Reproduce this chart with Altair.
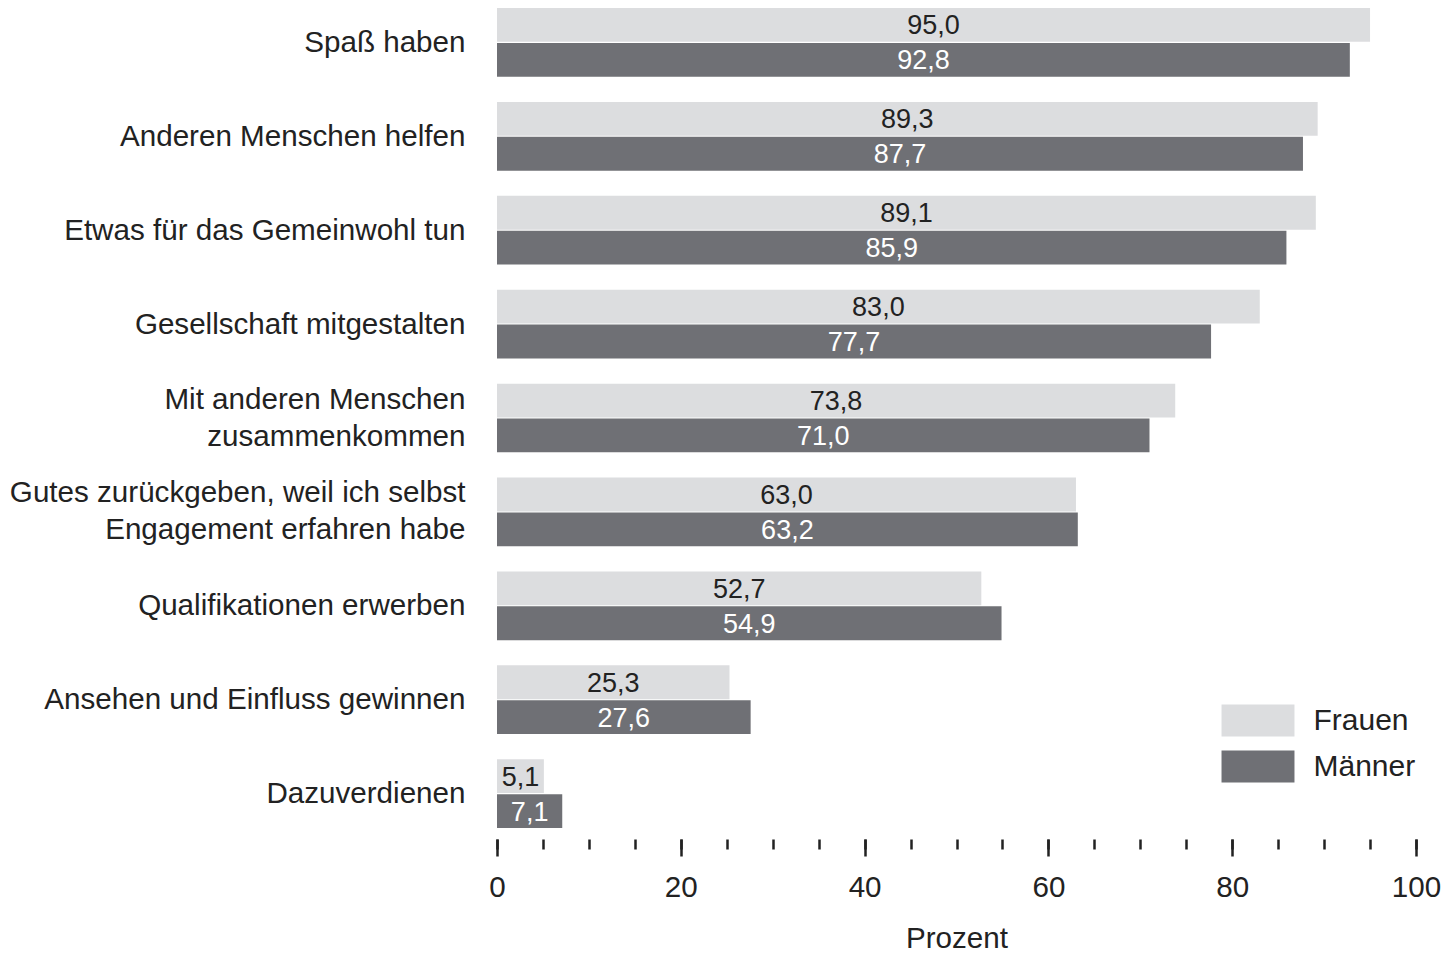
import altair as alt
import pandas as pd

kategorien = [
    "Spaß haben",
    "Anderen Menschen helfen",
    "Etwas für das Gemeinwohl tun",
    "Gesellschaft mitgestalten",
    "Mit anderen Menschen|zusammenkommen",
    "Gutes zurückgeben, weil ich selbst|Engagement erfahren habe",
    "Qualifikationen erwerben",
    "Ansehen und Einfluss gewinnen",
    "Dazuverdienen",
]
frauen = [95.0, 89.3, 89.1, 83.0, 73.8, 63.0, 52.7, 25.3, 5.1]
maenner = [92.8, 87.7, 85.9, 77.7, 71.0, 63.2, 54.9, 27.6, 7.1]
gruppen = ["Frauen", "Männer"]
farben = ["#dcdddf", "#6f7075"]
major_ticks = [0, 20, 40, 60, 80, 100]
minor_ticks = [0, 5, 10, 15, 20, 25, 30, 35, 40, 45, 50, 55, 60, 65, 70, 75, 80, 85, 90, 95, 100]

rows = []
for k, f, m in zip(kategorien, frauen, maenner):
    rows.append({"Kategorie": k, "Geschlecht": "Frauen", "Wert": f})
    rows.append({"Kategorie": k, "Geschlecht": "Männer", "Wert": m})
df = pd.DataFrame(rows)
df["Label"] = df["Wert"].map(lambda v: f"{v:.1f}".replace(".", ","))

FONT = "Liberation Sans"
TXT = "#222222"
FS = 29.6

xscale = alt.Scale(domain=[0, 100], nice=False)

y_enc = alt.Y(
    "Kategorie:N",
    sort=kategorien,
    scale=alt.Scale(paddingInner=0.268, paddingOuter=0),
    axis=alt.Axis(
        title=None,
        ticks=False,
        domain=False,
        labelFontSize=FS,
        labelFont=FONT,
        labelColor=TXT,
        labelPadding=32,
        labelLimit=0,
        labelLineHeight=37,
        labelExpr="split(datum.label, '|')",
        labelOffset={"condition": {"test": "indexof(datum.value, '|') >= 0", "value": -18.5}, "value": 0.5},
    ),
)
yoff = alt.YOffset("Geschlecht:N", sort=gruppen, scale=alt.Scale(paddingInner=0.03))

base = alt.Chart(df)

bars = base.mark_bar().encode(
    x=alt.X(
        "Wert:Q",
        scale=xscale,
        axis=alt.Axis(
            orient="bottom",
            values=major_ticks,
            title="Prozent",
            titleFont=FONT,
            titleFontSize=FS,
            titleFontWeight="normal",
            titleColor=TXT,
            titlePadding=23,
            labelFont=FONT,
            labelFontSize=FS,
            labelColor=TXT,
            labelPadding=17,
            labelFlush=False,
            tickSize=17,
            tickWidth=2.5,
            tickColor=TXT,
            domain=False,
            grid=False,
            offset=11,
        ),
    ),
    y=y_enc,
    yOffset=yoff,
    color=alt.Color(
        "Geschlecht:N",
        sort=gruppen,
        scale=alt.Scale(domain=gruppen, range=farben),
        legend=alt.Legend(
            title=None,
            orient="none",
            legendX=745,
            legendY=696.5,
            padding=0,
            symbolType="M-2.28,-1H2.28V1H-2.28Z",
            symbolSize=1024,
            symbolStrokeWidth=0,
            symbolOpacity=1,
            labelOffset=39.5,
            labelFont=FONT,
            labelFontSize=30,
            labelColor=TXT,
            rowPadding=14,
        ),
    ),
)

texts = base.transform_calculate(mid="datum.Wert / 2").mark_text(
    font=FONT, fontSize=27, baseline="middle", align="center", dy=1.5
).encode(
    x=alt.X(
        "mid:Q",
        scale=xscale,
        axis=alt.Axis(
            orient="bottom",
            values=minor_ticks,
            title=None,
            labels=False,
            tickSize=10,
            tickWidth=2.5,
            tickColor=TXT,
            domain=False,
            grid=False,
            offset=11,
        ),
    ),
    y=y_enc,
    yOffset=yoff,
    text="Label:N",
    color=alt.condition(alt.datum.Geschlecht == "Männer", alt.value("#ffffff"), alt.value(TXT)),
)

chart = (
    alt.layer(bars, texts)
    .resolve_axis(x="independent")
    .properties(
        width=919,
        height=820,
        autosize=alt.AutoSizeParams(type="none"),
        padding={"left": 489, "top": 0, "right": 26, "bottom": 126},
    )
    .configure_view(stroke=None)
)

chart.save("out.html", embed_options={"renderer": "svg", "actions": False})
